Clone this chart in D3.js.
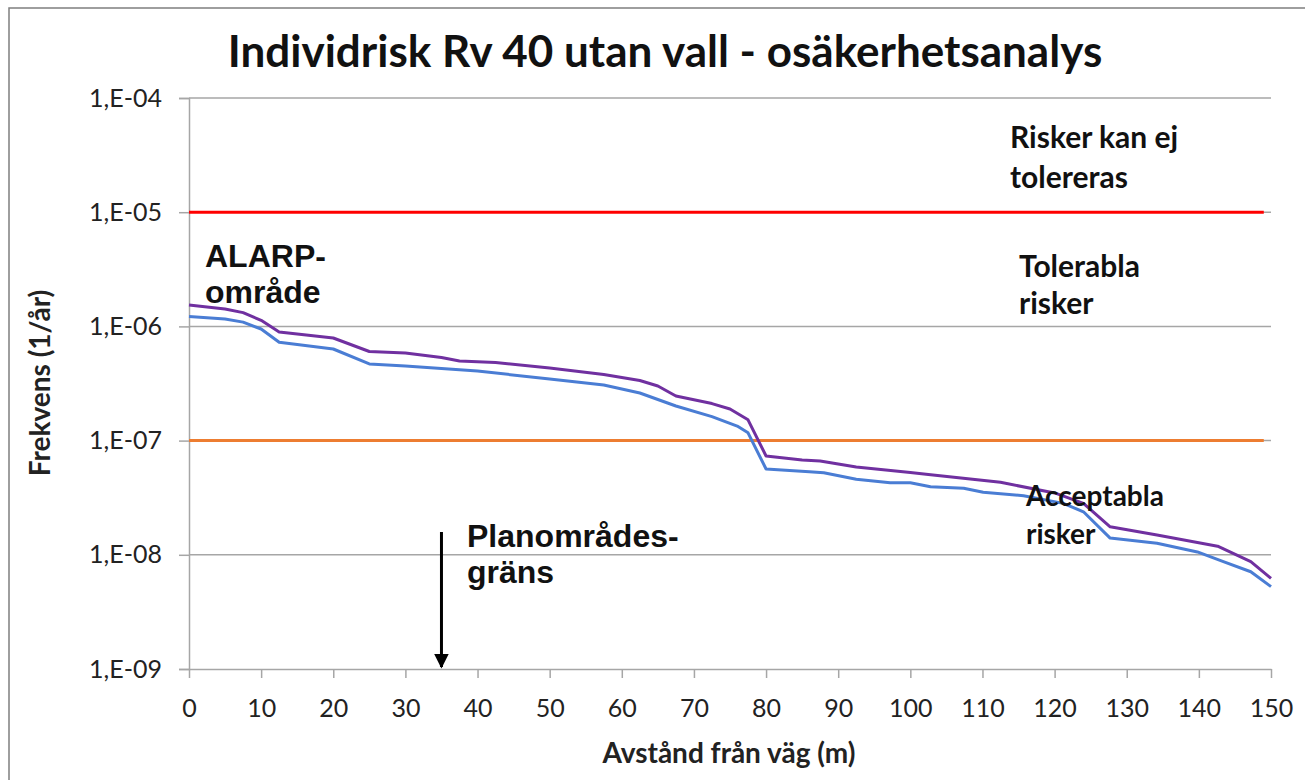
<!DOCTYPE html>
<html>
<head>
<meta charset="utf-8">
<script src="https://cdn.jsdelivr.net/npm/d3@7"></script>
<style>
  body { margin: 0; background: #fff; }
  svg { display: block; }
  .calibri { font-family: Lato, "Open Sans", sans-serif; }
  .arial { font-family: "Liberation Sans", Arial, sans-serif; }
</style>
</head>
<body>
<svg id="chart" width="1305" height="780"></svg>
<script>
// Individual risk, Rv 40 without embankment - uncertainty analysis

// upper curve (purple)
const upperX = [0, 5, 7.5, 10, 12.5, 20, 25, 30, 35, 37.5, 42.5, 50, 57.5, 62.5, 65, 67.5, 72.5, 75, 77.5, 80,
                85, 87.5, 92.5, 100, 102.5, 112.5, 120, 124, 127.7, 134.2, 142.6, 147.2, 150];
const upperY = [1.54e-6, 1.42e-6, 1.32e-6, 1.13e-6, 8.93e-7, 7.91e-7, 6.03e-7, 5.85e-7, 5.34e-7, 4.98e-7, 4.83e-7,
                4.32e-7, 3.79e-7, 3.36e-7, 3.01e-7, 2.46e-7, 2.11e-7, 1.89e-7, 1.52e-7, 7.33e-8,
                6.76e-8, 6.63e-8, 5.87e-8, 5.26e-8, 5.05e-8, 4.31e-8, 3.48e-8, 2.82e-8, 1.76e-8, 1.49e-8,
                1.19e-8, 8.70e-9, 6.22e-9];

// lower curve (blue)
const lowerX = [0, 5, 7.5, 10, 12.5, 20, 25, 30, 40, 50, 57.5, 62.5, 67.5, 72.5, 76, 77.5, 80,
                86, 88, 92.5, 97.2, 100, 102.8, 107.4, 110.1, 115.7, 121.2, 124, 127.7, 134.2, 139.8,
                143.4, 147.2, 150];
const lowerY = [1.22e-6, 1.16e-6, 1.09e-6, 9.49e-7, 7.26e-7, 6.34e-7, 4.69e-7, 4.50e-7, 4.07e-7, 3.46e-7,
                3.07e-7, 2.61e-7, 2.01e-7, 1.62e-7, 1.34e-7, 1.17e-7, 5.64e-8,
                5.34e-8, 5.23e-8, 4.58e-8, 4.28e-8, 4.28e-8, 3.95e-8, 3.82e-8, 3.53e-8, 3.29e-8, 2.82e-8,
                2.38e-8, 1.40e-8, 1.26e-8, 1.06e-8, 8.70e-9, 7.11e-9, 5.26e-9];

// criteria lines
const limitX = [0, 149];
const upperLimit = 1e-5;
const lowerLimit = 1e-7;

const xTicks = [0, 10, 20, 30, 40, 50, 60, 70, 80, 90, 100, 110, 120, 130, 140, 150];
const yTicks = [1e-4, 1e-5, 1e-6, 1e-7, 1e-8, 1e-9];
const yTickLabels = ['1,E-04', '1,E-05', '1,E-06', '1,E-07', '1,E-08', '1,E-09'];

const planBoundary = 35;

const svg = d3.select('#chart');
const plotLeft = 189, plotRight = 1271, plotTop = 98, plotBottom = 669;

const x = d3.scaleLinear().domain([0, 150]).range([plotLeft, plotRight]);
const y = d3.scaleLog().domain([1e-9, 1e-4]).range([plotBottom, plotTop]);

// outer frame (only left/top visible)
svg.append('rect')
    .attr('x', 9).attr('y', 8)
    .attr('width', 1320).attr('height', 800)
    .attr('fill', 'none')
    .attr('stroke', '#7f7f7f')
    .attr('stroke-width', 1.5);

// gridlines
svg.append('g')
    .selectAll('line')
    .data(yTicks.slice(0, -1))
    .enter()
    .append('line')
    .attr('x1', plotLeft).attr('x2', plotRight)
    .attr('y1', d => y(d)).attr('y2', d => y(d))
    .attr('stroke', '#a6a6a6')
    .attr('stroke-width', 1.5);

// y axis
const yAxis = svg.append('g')
    .attr('transform', `translate(${plotLeft},0)`)
    .call(d3.axisLeft(y).tickValues(yTicks).tickFormat((d, i) => yTickLabels[i]).tickSize(10).tickPadding(17));
yAxis.select('.domain').attr('stroke', '#a6a6a6').attr('stroke-width', 1.5);
yAxis.selectAll('.tick line').attr('stroke', '#a6a6a6').attr('stroke-width', 1.5);
yAxis.selectAll('.tick text')
    .attr('class', 'calibri')
    .attr('font-size', 25)
    .attr('fill', '#222');

// x axis
const xAxis = svg.append('g')
    .attr('transform', `translate(0,${plotBottom})`)
    .call(d3.axisBottom(x).tickValues(xTicks).tickSize(9).tickSizeOuter(0).tickPadding(21));
xAxis.select('.domain').attr('stroke', '#a6a6a6').attr('stroke-width', 1.5);
xAxis.selectAll('.tick line').attr('stroke', '#a6a6a6').attr('stroke-width', 1.5);
xAxis.selectAll('.tick text')
    .attr('class', 'calibri')
    .attr('font-size', 25)
    .attr('fill', '#222');

// criteria lines
svg.append('line')
    .attr('x1', x(limitX[0])).attr('x2', x(limitX[1]))
    .attr('y1', y(upperLimit)).attr('y2', y(upperLimit))
    .attr('stroke', '#ff0000').attr('stroke-width', 3);
svg.append('line')
    .attr('x1', x(limitX[0])).attr('x2', x(limitX[1]))
    .attr('y1', y(lowerLimit)).attr('y2', y(lowerLimit))
    .attr('stroke', '#ed7d31').attr('stroke-width', 3);

// curves
const line = d3.line().x(d => x(d[0])).y(d => y(d[1]));

svg.append('path')
    .datum(d3.zip(lowerX, lowerY))
    .attr('d', line)
    .attr('fill', 'none')
    .attr('stroke', '#4a7dd4')
    .attr('stroke-width', 3)
    .attr('stroke-linejoin', 'round');

svg.append('path')
    .datum(d3.zip(upperX, upperY))
    .attr('d', line)
    .attr('fill', 'none')
    .attr('stroke', '#7030a0')
    .attr('stroke-width', 3)
    .attr('stroke-linejoin', 'round');

// arrow for plan boundary
svg.append('defs').append('marker')
    .attr('id', 'arrow')
    .attr('viewBox', '0 0 10 10')
    .attr('refX', 9).attr('refY', 5)
    .attr('markerWidth', 5).attr('markerHeight', 5)
    .attr('markerUnits', 'strokeWidth')
    .attr('orient', 'auto')
    .append('path')
    .attr('d', 'M0,0 L10,5 L0,10 z')
    .attr('fill', '#000');

svg.append('line')
    .attr('x1', x(planBoundary)).attr('x2', x(planBoundary))
    .attr('y1', 532).attr('y2', plotBottom - 2)
    .attr('stroke', '#000')
    .attr('stroke-width', 3)
    .attr('marker-end', 'url(#arrow)');

// title
svg.append('text')
    .attr('class', 'calibri')
    .attr('x', 665).attr('y', 67)
    .attr('text-anchor', 'middle')
    .attr('font-size', 44)
    .attr('font-weight', 'bold')
    .attr('fill', '#111')
    .text('Individrisk Rv 40 utan vall - osäkerhetsanalys');

// axis titles
svg.append('text')
    .attr('class', 'calibri')
    .attr('transform', 'translate(50,383) rotate(-90)')
    .attr('text-anchor', 'middle')
    .attr('font-size', 28)
    .attr('font-weight', 'bold')
    .attr('fill', '#222')
    .text('Frekvens (1/år)');

svg.append('text')
    .attr('class', 'calibri')
    .attr('x', 729).attr('y', 763)
    .attr('text-anchor', 'middle')
    .attr('font-size', 28)
    .attr('font-weight', 'bold')
    .attr('fill', '#222')
    .text('Avstånd från väg (m)');

// region annotations
const notes = [
    { cls: 'calibri', x: 1010, y: 148, size: 30, text: 'Risker kan ej' },
    { cls: 'calibri', x: 1010, y: 188, size: 30, text: 'tolereras' },
    { cls: 'calibri', x: 1019, y: 277, size: 30, text: 'Tolerabla' },
    { cls: 'calibri', x: 1019, y: 314, size: 30, text: 'risker' },
    { cls: 'calibri', x: 1026, y: 506, size: 28, text: 'Acceptabla' },
    { cls: 'calibri', x: 1026, y: 544, size: 28, text: 'risker' },
    { cls: 'arial', x: 205, y: 267, size: 32, text: 'ALARP-' },
    { cls: 'arial', x: 205, y: 303, size: 32, text: 'område' },
    { cls: 'arial', x: 467, y: 547, size: 32, text: 'Planområdes-' },
    { cls: 'arial', x: 467, y: 583, size: 32, text: 'gräns' }
];

svg.append('g')
    .selectAll('text')
    .data(notes)
    .enter()
    .append('text')
    .attr('class', d => d.cls)
    .attr('x', d => d.x).attr('y', d => d.y)
    .attr('font-size', d => d.size)
    .attr('font-weight', 'bold')
    .attr('fill', '#111')
    .text(d => d.text);
</script>
</body>
</html>
